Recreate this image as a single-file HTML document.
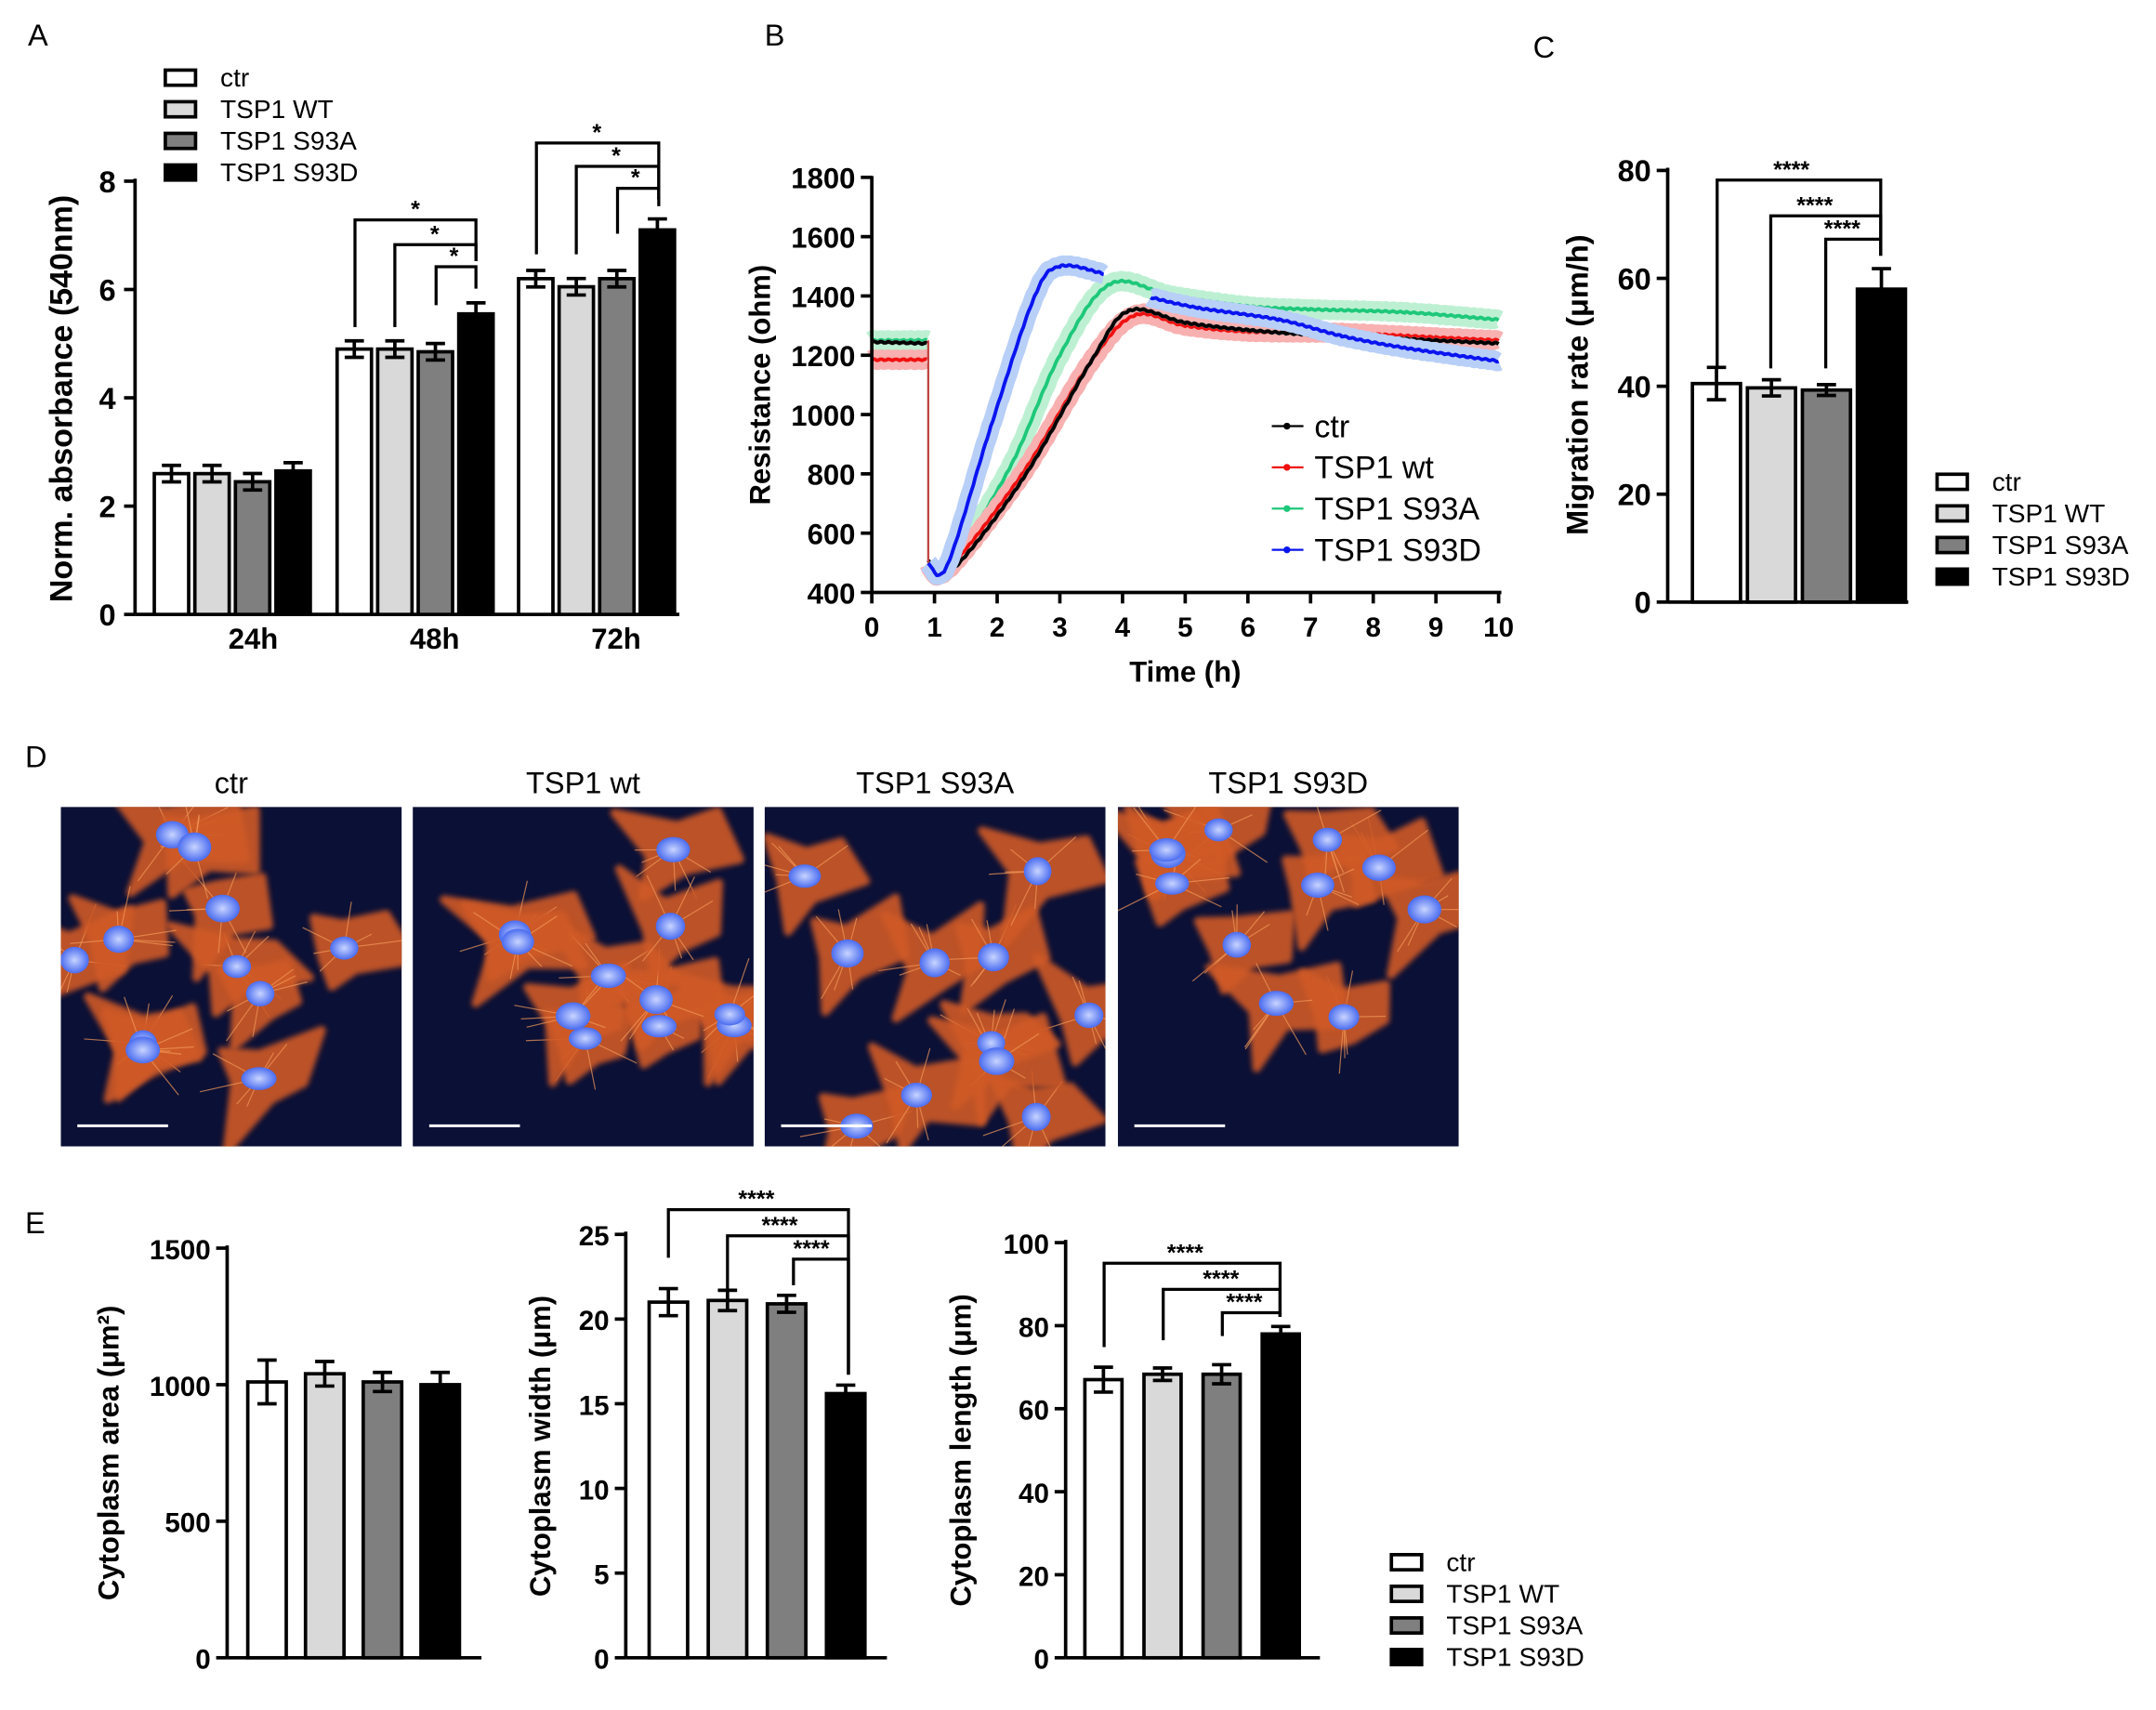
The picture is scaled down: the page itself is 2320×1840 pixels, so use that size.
<!DOCTYPE html>
<html><head><meta charset="utf-8"><style>
html,body{margin:0;padding:0;background:#fff;width:2320px;height:1840px;overflow:hidden}
svg{display:block}
text{font-family:"Liberation Sans",Arial,sans-serif}
</style></head><body>
<svg id="s" width="2320" height="1840" viewBox="0 0 1568 1244" xmlns="http://www.w3.org/2000/svg"></svg>
<script>
const S=document.getElementById('s');let h='';
function L(x1,y1,x2,y2,w=2.5,c='#000'){h+=`<line x1="${x1}" y1="${y1}" x2="${x2}" y2="${y2}" stroke="${c}" stroke-width="${w}"/>`}
function T(x,y,t,sz=18,a='middle',wt='normal',rot=0,c='#000'){h+=`<text x="${x}" y="${y}" font-size="${sz}" text-anchor="${a}" font-weight="${wt}" fill="${c}"${rot?` transform="rotate(${rot} ${x} ${y})"`:''}>${t}</text>`}
function R(x,y,w,hh,f,sw=2.5){h+=`<rect x="${x}" y="${y}" width="${w}" height="${hh}" fill="${f}" stroke="#000" stroke-width="${sw}"/>`}
const fills=['#fff','#d9d9d9','#7f7f7f','#000'];
function bar(x,w,y0,yv,err,f){R(x,yv,w,y0-yv,f);const c=x+w/2;L(c,yv,c,yv-err);L(c-7,yv-err,c+7,yv-err);L(c,yv,c,yv+err);L(c-7,yv+err,c+7,yv+err)}
function legend(x,y,dy,sz,labels){labels.forEach((t,i)=>{R(x,y+i*dy-6,22,11,fills[i],2.5);T(x+40,y+i*dy+6,t,sz,'start')})}
function brk(x1,x2,yt,yb1,yb2,star,sx){h+=`<polyline points="${x1},${yb1} ${x1},${yt} ${x2},${yt} ${x2},${yb2}" fill="none" stroke="#000" stroke-width="2.2"/>`;T(sx,yt-2,star,17,'middle','bold')}
T(20,33,'A',22,'start');T(556,33,'B',22,'start');T(1115,42,'C',22,'start');T(18,558,'D',22,'start');T(18,897,'E',22,'start');
// ===== A =====
{const y0=447,k=39.4,ax=98;L(ax,130,ax,y0);L(ax,y0,494,y0);
for(let v=0;v<=8;v+=2){const y=y0-v*k;L(ax-8,y,ax,y);T(ax-14,y+8,v,22,'end','bold')}
T(52,290,'Norm. absorbance (540nm)',23,'middle','bold',-90);
const groups=[[112,[2.6,2.6,2.45,2.65]],[245,[4.9,4.9,4.85,5.55]],[377,[6.2,6.05,6.2,7.1]]];
groups.forEach(([gx,vals])=>{vals.forEach((v,i)=>bar(gx+i*29.5,25,y0,y0-v*k,i==3&&v>5?8:6,fills[i]))});
T(184,472,'24h',21,'middle','bold');T(316,472,'48h',21,'middle','bold');T(448,472,'72h',21,'middle','bold');
brk(258,346,160,238,190,'*',302);brk(287,346,178,238,190,'*',316);brk(317,346,194,222,210,'*',330);
brk(390,479,104,185,145,'*',434);brk(419,479,121,185,145,'*',448);brk(449,479,137,170,150,'*',462);
legend(120,57,23,19,['ctr','TSP1 WT','TSP1 S93A','TSP1 S93D']);}
// ===== B =====
{const ax=634,y0=431,kx=45.6,ky=0.2157;const X=t=>ax+t*kx,Y=v=>y0-(v-400)*ky;
T(560,280,'Resistance (ohm)',21,'middle','bold',-90);T(862,496,'Time (h)',21,'middle','bold');
function seg(pts){let d='';for(let i=0;i<pts.length-1;i++){const p0=pts[Math.max(0,i-1)],p1=pts[i],p2=pts[i+1],p3=pts[Math.min(pts.length-1,i+2)];
const n=Math.max(2,Math.ceil((p2[0]-p1[0])/0.03));for(let j=0;j<=n;j++){const u=j/n,u2=u*u,u3=u2*u;
const cr=(a,b,c,e)=>0.5*((2*b)+(-a+c)*u+(2*a-5*b+4*c-e)*u2+(-a+3*b-3*c+e)*u3);
let t=cr(p0[0],p1[0],p2[0],p3[0]),v=cr(p0[1],p1[1],p2[1],p3[1]);v+=Math.sin(t*53+i)*2.5;
d+=(d?'L':'M')+X(t).toFixed(1)+','+Y(v).toFixed(1)}}return d}
function curve(parts,col,band,bw){let d=parts.map(seg).join('');
h+=`<path d="${d}" fill="none" stroke="${band}" stroke-width="${bw}" stroke-linejoin="round"/>`;
h+=`<path d="${d}" fill="none" stroke="${col}" stroke-width="2.6" stroke-linejoin="round"/>`}
curve([[[0,1250],[0.88,1250]],[[0.9,500],[1.2,480],[2.2,820],[3.0,1200],[3.8,1440],[4.8,1400],[6,1365],[7,1355],[8.5,1345],[10,1320]]],'#1ec87a','#bdf0d2',14);
curve([[[0,1185],[0.88,1185]],[[0.9,500],[1.2,475],[2.4,800],[3.5,1180],[4.2,1335],[5,1300],[6,1280],[7.5,1275],[9,1260],[10,1250]]],'#f01010','#f8b0b0',14);
curve([[[0,1245],[0.88,1240]],[[0.9,510],[1.25,470],[2.4,780],[3.5,1180],[4.1,1350],[5,1310],[6,1285],[7,1270],[8.5,1255],[10,1240]]],'#000','#888',3);
curve([[[0.9,500],[1.2,490],[1.9,960],[2.6,1400],[3.0,1500],[3.7,1475]],[[4.45,1395],[5.2,1360],[6.5,1320],[7.5,1265],[8.5,1225],[10,1180]]],'#0a14f0','#b8cff8',14);
L(X(0.9),Y(1250),X(0.9),Y(500),1.5,'#c04040');
L(ax,128,ax,y0);L(ax,y0,1092,y0);
for(let v=400;v<=1800;v+=200){L(ax-8,Y(v),ax,Y(v));T(ax-12,Y(v)+8,v,21,'end','bold')}
for(let t=0;t<=10;t++){L(X(t),y0,X(t),y0+8);T(X(t),y0+32,t,20,'middle','bold')}
const lg=[['ctr','#000'],['TSP1 wt','#f01010'],['TSP1 S93A','#1ec87a'],['TSP1 S93D','#0a14f0']];
lg.forEach(([t,c],i)=>{const y=310+i*30;L(925,y,948,y,1.5,c);h+=`<circle cx="936" cy="${y}" r="2.5" fill="${c}"/>`;T(956,y+8,t,23,'start')});}
// ===== C =====
{const ax=1213,y0=438,k=3.925;L(ax,122,ax,y0);L(ax,y0,1388,y0);
for(let v=0;v<=80;v+=20){L(ax-8,y0-v*k,ax,y0-v*k);T(ax-12,y0-v*k+8,v,22,'end','bold')}
T(1155,280,'Migration rate (μm/h)',22,'middle','bold',-90);
[40.5,39.7,39.3,58].forEach((v,i)=>bar(1231+i*40,35,y0,y0-v*k,[3,1.5,1,3.8][i]*k,fills[i]));
brk(1249,1368,131,268,186,'****',1303);brk(1288,1368,157,268,186,'****',1320);brk(1328,1368,174,268,186,'****',1340);
legend(1409,351,23,19,['ctr','TSP1 WT','TSP1 S93A','TSP1 S93D']);}
// ===== D images =====
{let seed=11;const rnd=()=>{seed=(seed*16807)%2147483647;return seed/2147483647};
const titles=['ctr','TSP1 wt','TSP1 S93A','TSP1 S93D'];const xs=[44,300,556,813];
h+=`<defs><filter id="bl"><feGaussianBlur stdDeviation="2"/></filter><radialGradient id="nuc"><stop offset="0" stop-color="#c8d4ff"/><stop offset="1" stop-color="#4a6cf0"/></radialGradient></defs>`;
xs.forEach((x0,p)=>{T(x0+124,577,titles[p],22,'middle');
h+=`<clipPath id="c${p}"><rect x="${x0}" y="587" width="248" height="247"/></clipPath><g clip-path="url(#c${p})"><rect x="${x0}" y="587" width="248" height="247" fill="#0b1036"/>`;
const n=11;const cells=[];for(let i=0;i<n;i++)cells.push([x0+10+rnd()*228,597+rnd()*227]);
cells.forEach(([cx,cy])=>{let pts='';const m=7;for(let j=0;j<m;j++){const a=j/m*6.283+rnd()*0.4;const r=(j%2?18:28+rnd()*30);pts+=(cx+Math.cos(a)*r).toFixed(1)+','+(cy+Math.sin(a)*r).toFixed(1)+' '}
h+=`<polygon points="${pts}" fill="#d05a28" opacity="0.9" filter="url(#bl)" stroke="#d05a28" stroke-width="6" stroke-linejoin="round"/>`;
for(let j=0;j<6;j++){const a=rnd()*6.283,r=20+rnd()*25;h+=`<line x1="${cx}" y1="${cy}" x2="${cx+Math.cos(a)*r}" y2="${cy+Math.sin(a)*r}" stroke="#f29a5a" stroke-width="0.8" opacity="0.7"/>`}});
cells.forEach(([cx,cy])=>{h+=`<ellipse cx="${cx}" cy="${cy}" rx="${10+rnd()*3}" ry="${8+rnd()*3}" fill="url(#nuc)"/>`});
h+=`</g>`;L(x0+12,819,x0+78,819,2,'#fff');});}
// ===== E =====
function ep(ax,x1,top,y0,max,stepv,lab,labx,vals,errs,bx,bw,bg){const k=(y0-top)/max;L(ax,top-2,ax,y0);L(ax,y0,x1,y0);
for(let v=0;v<=max;v+=stepv){L(ax-8,y0-v*k,ax,y0-v*k);T(ax-12,y0-v*k+8,v,20,'end','bold')}
T(labx,(top+y0)/2,lab,21,'middle','bold',-90);vals.forEach((v,i)=>bar(bx+i*bg,bw,y0,y0-v*k,errs[i]*k,fills[i]))}
ep(165,350,908,1206,1500,500,'Cytoplasm area (μm²)',86,[1010,1040,1010,1000],[80,45,35,45],180,28,42);
ep(455,645,898,1206,25,5,'Cytoplasm width (μm)',400,[21,21.1,20.9,15.6],[0.8,0.6,0.5,0.5],472,28,43);
ep(775,960,904,1206,100,20,'Cytoplasm length (μm)',706,[67,68.3,68.3,78],[3,1.5,2.3,1.8],789,27,43);
brk(486,617,880,915,1000,'****',550);brk(529,617,899,945,1000,'****',567);brk(577,617,916,935,1000,'****',590);
brk(803,931,919,980,958,'****',862);brk(846,931,938,975,958,'****',888);brk(889,931,955,972,958,'****',905);
legend(1012,1137,23,19,['ctr','TSP1 WT','TSP1 S93A','TSP1 S93D']);
S.innerHTML=h;
</script>
</body></html>
